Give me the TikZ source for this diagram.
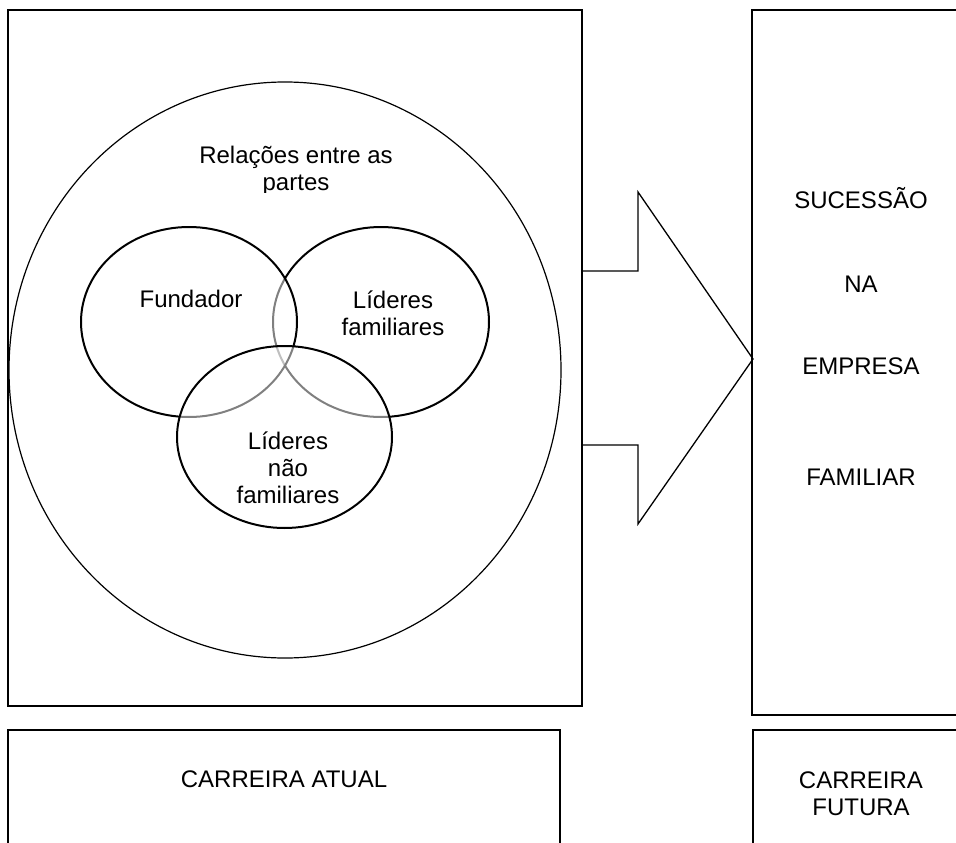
\documentclass[tikz,border=0pt]{standalone}
\usepackage{fontspec}
\setmainfont{Liberation Sans}
\usetikzlibrary{shapes.geometric}

\begin{document}
\begin{tikzpicture}[
  x=1pt,y=-1pt,
  venn/.style={ellipse,draw,line width=2pt,fill=white,fill opacity=0.5,inner sep=0pt,outer sep=0pt,minimum width=216pt,minimum height=190pt},
  txt/.style={anchor=base,align=center,font=\fontsize{24}{27}\selectfont,inner sep=0pt},
  ]
  \tikzset{%
    frame/.style={
      line width=1.3pt,
    },
  }
  \useasboundingbox (0,0) rectangle (956,843);
  %Boxes
  \draw[frame] (8,10) rectangle (582,706);
  \draw[frame] (956,10) -- (752,10) -- (752,715) -- (956,715);
  \draw[frame] (8,843) -- (8,730) -- (560,730) -- (560,843);
  \draw[frame] (956,730) -- (753,730) -- (753,843);
  % Arrow
  \draw[frame,line join=miter] (582,271) -- (638,271) -- (638,192) -- (753,359) -- (638,524) -- (638,445) -- (582,445);
  %Nodes
  \node[ellipse,draw,line width=1.2pt,inner sep=0pt,minimum width=552pt,minimum height=576pt](relacoes) at (285,370){};
  \node[venn](lidfam) at (381,322){};
  \node[venn](fund) at (189,322){};
  \node[venn,minimum width=215pt,minimum height=182pt](lidnfam) at (284.5,437){};
  \fill[white] (356.5,509) rectangle (360.5,514.5);
  %Texts (base = last line)
  \begin{scope}
    \clip (0,0) rectangle (956,192);
    \node[txt](trel) at (296,190){Relações entre as\\partes};
  \end{scope}
  \node[txt](tfund) at (191,307){Fundador};
  \node[txt](tlidfam) at (393,335){Líderes\\familiares};
  \node[txt](tlidnfam) at (288,503){Líderes\\não\\familiares};
  \node[txt](tsuc) at (861,208){SUCESSÃO};
  \node[txt](tna) at (861,292){NA};
  \node[txt](temp) at (861,374){EMPRESA};
  \node[txt](tfam) at (861,485){FAMILIAR};
  \node[txt](tatual) at (284,787){CARREIRA ATUAL};
  \node[txt](tfutura) at (861,815){CARREIRA\\FUTURA};
\end{tikzpicture}
\end{document}
